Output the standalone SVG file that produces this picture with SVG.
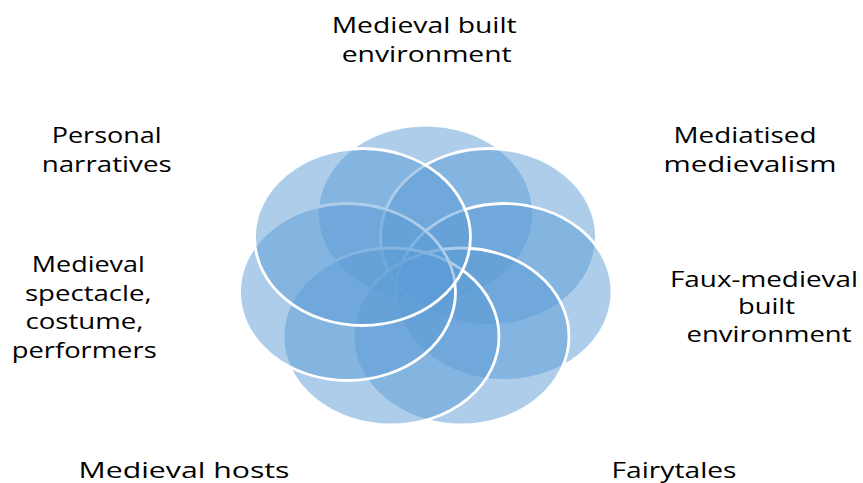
<svg xmlns="http://www.w3.org/2000/svg" width="863" height="483" viewBox="0 0 863 483">
<style>
.p{fill:#5B9BD5;fill-opacity:0.5;stroke:#FFFFFF;stroke-width:2.8}
.t{font-family:"Open Sans","Liberation Sans",sans-serif;font-size:22px;fill:#000000;text-anchor:middle}
</style>
<rect width="863" height="483" fill="#FFFFFF"/>
<g id="petals">
<g id="n1"><ellipse class="p" cx="425.5" cy="213.5" rx="108" ry="88.5"/></g>
<g id="n2"><ellipse class="p" cx="488.5" cy="237" rx="108" ry="88.5"/></g>
<g id="n3"><ellipse class="p" cx="504" cy="292" rx="108" ry="88.5"/></g>
<g id="n4"><ellipse class="p" cx="461" cy="336.5" rx="108" ry="88.5"/></g>
<g id="n5"><ellipse class="p" cx="391" cy="336.5" rx="108" ry="88.5"/></g>
<g id="n6"><ellipse class="p" cx="347.5" cy="292" rx="108" ry="88.5"/></g>
<g id="n7"><ellipse class="p" cx="362.5" cy="237" rx="108" ry="88.5"/></g>
</g>
<g id="connectors"></g>
<g id="labels">
<g id="l1"><text class="t" x="424.2" y="33.3" textLength="185" lengthAdjust="spacingAndGlyphs">Medieval built</text><text class="t" x="426.7" y="61.7" textLength="170" lengthAdjust="spacingAndGlyphs">environment</text></g>
<g id="l2"><text class="t" x="745" y="143.3" textLength="143" lengthAdjust="spacingAndGlyphs">Mediatised</text><text class="t" x="750" y="171.7" textLength="173" lengthAdjust="spacingAndGlyphs">medievalism</text></g>
<g id="l3"><text class="t" x="764" y="286.5" textLength="188" lengthAdjust="spacingAndGlyphs">Faux-medieval</text><text class="t" x="766.5" y="314" textLength="57" lengthAdjust="spacingAndGlyphs">built</text><text class="t" x="769" y="341.5" textLength="165" lengthAdjust="spacingAndGlyphs">environment</text></g>
<g id="l4"><text class="t" x="674" y="478" textLength="125" lengthAdjust="spacingAndGlyphs">Fairytales</text></g>
<g id="l5"><text class="t" x="184" y="478" textLength="211" lengthAdjust="spacingAndGlyphs">Medieval hosts</text></g>
<g id="l6"><text class="t" x="88.3" y="272" textLength="113" lengthAdjust="spacingAndGlyphs">Medieval</text><text class="t" x="88.3" y="300.5" textLength="126.7" lengthAdjust="spacingAndGlyphs">spectacle,</text><text class="t" x="84.5" y="329" textLength="118" lengthAdjust="spacingAndGlyphs">costume,</text><text class="t" x="84.2" y="357.5" textLength="145" lengthAdjust="spacingAndGlyphs">performers</text></g>
<g id="l7"><text class="t" x="106.7" y="143.3" textLength="110" lengthAdjust="spacingAndGlyphs">Personal</text><text class="t" x="106.7" y="171.7" textLength="130" lengthAdjust="spacingAndGlyphs">narratives</text></g>
</g>
</svg>
